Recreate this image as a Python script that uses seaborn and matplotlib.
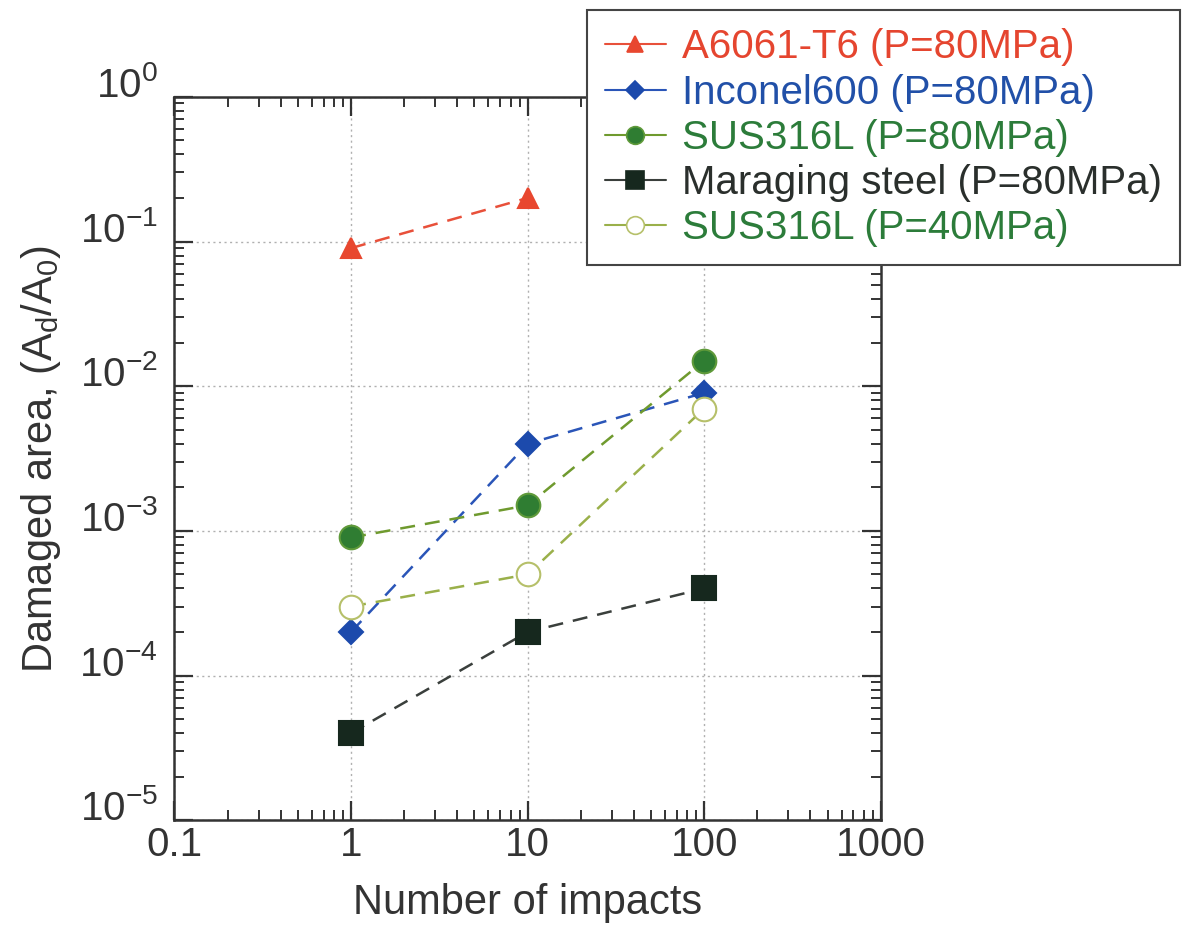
import matplotlib
matplotlib.use("Agg")
import matplotlib.pyplot as plt
from matplotlib.lines import Line2D
from matplotlib.ticker import LogLocator, LogFormatterSciNotation, NullFormatter, FixedLocator, FixedFormatter
import seaborn as sns

# Damaged area ratio vs number of impacts
impacts_a6061 = [1, 10]
area_a6061 = [0.09, 0.2]

impacts_inconel = [1, 10, 100]
area_inconel = [2e-4, 4e-3, 9e-3]

impacts_sus80 = [1, 10, 100]
area_sus80 = [9e-4, 1.5e-3, 1.5e-2]

impacts_maraging = [1, 10, 100]
area_maraging = [4e-5, 2e-4, 4e-4]

impacts_sus40 = [1, 10, 100]
area_sus40 = [3e-4, 5e-4, 7e-3]

labels = [
    "A6061-T6 (P=80MPa)",
    "Inconel600 (P=80MPa)",
    "SUS316L (P=80MPa)",
    "Maraging steel (P=80MPa)",
    "SUS316L (P=40MPa)",
]

x_ticks = [0.1, 1, 10, 100, 1000]
x_ticklabels = ["0.1", "1", "10", "100", "1000"]

sns.set_theme(style="white")
plt.rcParams["font.family"] = ["Liberation Sans", "DejaVu Sans"]
plt.rcParams["mathtext.default"] = "regular"
plt.rcParams["axes.unicode_minus"] = False

fig = plt.figure(figsize=(11.87, 9.31), dpi=100)
ax = fig.add_axes([0.147, 0.119, 0.595, 0.777])

series = [
    dict(x=impacts_a6061, y=area_a6061, line="#e8503a", marker="^", mfc="#e8472f", mec="#e8472f", ms=15, text="#e5452f"),
    dict(x=impacts_inconel, y=area_inconel, line="#2a55b8", marker="D", mfc="#1c4aac", mec="#1c4aac", ms=12, text="#2150a8"),
    dict(x=impacts_sus80, y=area_sus80, line="#6f9a2e", marker="o", mfc="#2f7d32", mec="#5f9a3a", ms=17, text="#2c7c3a"),
    dict(x=impacts_maraging, y=area_maraging, line="#3a3f3c", marker="s", mfc="#16281e", mec="#16281e", ms=17, text="#2a2f2c"),
    dict(x=impacts_sus40, y=area_sus40, line="#9ab04a", marker="o", mfc="white", mec="#b6c06a", ms=17, text="#2c7c3a"),
]

handles = []
for s, lab in zip(series, labels):
    sns.lineplot(x=s["x"], y=s["y"], ax=ax, color=s["line"], linestyle=(0, (6, 4)),
                 linewidth=1.8, marker=s["marker"], markersize=s["ms"],
                 markerfacecolor=s["mfc"], markeredgecolor=s["mec"],
                 markeredgewidth=1.5, legend=False)
    handles.append(Line2D([], [], color=s["line"], linewidth=1.5, marker=s["marker"],
                          markersize=s["ms"] * 0.75, markerfacecolor=s["mfc"],
                          markeredgecolor=s["mec"], markeredgewidth=1.2))

ax.set_xscale("log")
ax.set_yscale("log")
ax.set_xlim(0.1, 1000)
ax.set_ylim(1e-5, 1)

ax.xaxis.set_major_locator(FixedLocator(x_ticks))
ax.xaxis.set_major_formatter(FixedFormatter(x_ticklabels))
ax.xaxis.set_minor_locator(LogLocator(base=10, subs=range(2, 10)))
ax.xaxis.set_minor_formatter(NullFormatter())
ax.yaxis.set_major_locator(LogLocator(base=10, numticks=10))
ax.yaxis.set_major_formatter(LogFormatterSciNotation())
ax.yaxis.set_minor_locator(LogLocator(base=10, subs=range(2, 10), numticks=20))
ax.yaxis.set_minor_formatter(NullFormatter())

ax.tick_params(which="both", direction="in", top=True, right=True, bottom=True, left=True,
               colors="#333333")
ax.tick_params(which="major", length=14, width=1.6, labelsize=29, labelcolor="#333333")
ax.tick_params(axis="x", which="major", pad=4)
ax.tick_params(axis="y", which="major", pad=12)
ax.tick_params(which="minor", length=7, width=1.4)

for lbl in ax.get_yticklabels():
    lbl.set_verticalalignment("baseline")

for sp in ax.spines.values():
    sp.set_color("#333333")
    sp.set_linewidth(1.8)

ax.grid(which="major", color="#b0b0b0", linestyle=(0, (1.5, 2.5)), linewidth=1.0)

ax.set_xlabel("Number of impacts", fontsize=30, color="#333333", labelpad=14)
ax.set_ylabel("Damaged area, (A$_\\mathregular{d}$/A$_\\mathregular{0}$)", fontsize=30,
              color="#333333", labelpad=12)

leg = fig.legend(handles=handles, labels=labels, loc="upper right",
                 bbox_to_anchor=(0.994, 0.989), fontsize=29, frameon=True,
                 fancybox=False, edgecolor="#444444", framealpha=1,
                 handlelength=1.5, handletextpad=0.4, labelspacing=0.18,
                 borderpad=0.45, borderaxespad=0.0)
leg.get_frame().set_linewidth(1.5)
for t, s in zip(leg.get_texts(), series):
    t.set_color(s["text"])

fig.savefig("out.png", dpi=100)
